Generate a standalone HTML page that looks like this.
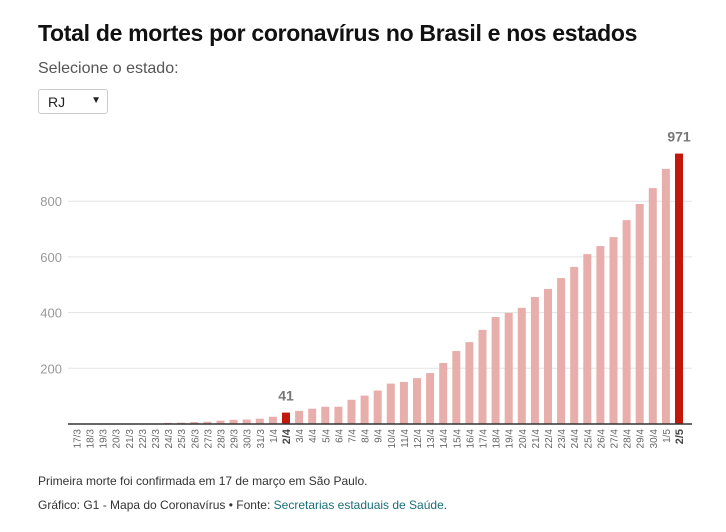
<!DOCTYPE html>
<html><head><meta charset="utf-8"><style>
body{margin:0;width:726px;height:532px;background:#fff;font-family:"Liberation Sans",sans-serif;overflow:hidden;position:relative}
.t{position:absolute;left:38px;top:20px;font-size:23px;font-weight:bold;color:#111;letter-spacing:-0.3px}
.s{position:absolute;left:38px;top:60px;font-size:16px;color:#555}
.sel{position:absolute;left:38px;top:89px;width:70px;height:25px;border:1px solid #ccc;border-radius:3px;font-size:14px;box-sizing:border-box;padding:4px 9px;color:#222}
.sel span{position:absolute;right:6px;top:5px;font-size:10px}
.f{position:absolute;left:38px;font-size:12px;color:#333}
.f a{color:#1a6e7a;text-decoration:none}
svg{position:absolute;left:0;top:0}
</style></head><body>
<div class="t">Total de mortes por coronavírus no Brasil e nos estados</div>
<div class="s">Selecione o estado:</div>
<div class="sel">RJ<span>▼</span></div>
<svg id="c" width="726" height="532"></svg>
<div class="f" style="top:474px">Primeira morte foi confirmada em 17 de março em São Paulo.</div>
<div class="f" style="top:498px">Gráfico: G1 - Mapa do Coronavírus • Fonte: <a>Secretarias estaduais de Saúde</a>.</div>
<script>
const categories=["17/3","18/3","19/3","20/3","21/3","22/3","23/3","24/3","25/3","26/3","27/3","28/3","29/3","30/3","31/3","1/4","2/4","3/4","4/4","5/4","6/4","7/4","8/4","9/4","10/4","11/4","12/4","13/4","14/4","15/4","16/4","17/4","18/4","19/4","20/4","21/4","22/4","23/4","24/4","25/4","26/4","27/4","28/4","29/4","30/4","1/5","2/5"];
const values=[0,0,0,0,0,0,0,4,5,7,8,12,15,16,19,26,41,47,55,62,62,87,102,120,145,151,165,183,219,262,294,338,384,399,417,456,485,524,564,610,639,671,732,790,847,916,971];
const highlighted=["2/4","2/5"];
const yTicks=[200,400,600,800];
const NS="http://www.w3.org/2000/svg",svg=document.getElementById('c');
const base=424,k=0.2785,x0=76.4,step=13.1,bw=8;
const y=v=>base-v*k, x=i=>x0+i*step;
function mk(t,a){const e=document.createElementNS(NS,t);for(const n in a)e.setAttribute(n,a[n]);svg.appendChild(e);return e;}
yTicks.forEach(v=>{
 const l=mk('line',{x1:68,x2:692,y1:y(v),y2:y(v),stroke:'#e3e3e3'});
 
 
 const t=mk('text',{x:62,y:y(v)+5,'text-anchor':'end','font-size':13,fill:'#999'});t.textContent=v;
 
 
});
values.forEach((v,i)=>{
 const hl=highlighted.includes(categories[i]);
 const r=mk('rect',{x:x(i)-bw/2,y:y(v),width:bw,height:v*k,fill:hl?'#c4170c':'#e8aeab'});
 
 
 const t=mk('text',{transform:`translate(${x(i)+4},${base+5}) rotate(-90)`,'text-anchor':'end','font-size':hl?11:10,'font-weight':hl?'bold':'normal',fill:hl?'#444':'#666'});
 t.textContent=categories[i];
 
 
 if(hl){const lb=mk('text',{x:x(i),y:y(v)-12,'text-anchor':'middle','font-size':14,'font-weight':'bold',fill:'#777'});lb.textContent=v;
 
 }
});
const ax=mk('line',{x1:68,x2:692,y1:base,y2:base,stroke:'#333','stroke-width':1.5});


</script>
</body></html>
